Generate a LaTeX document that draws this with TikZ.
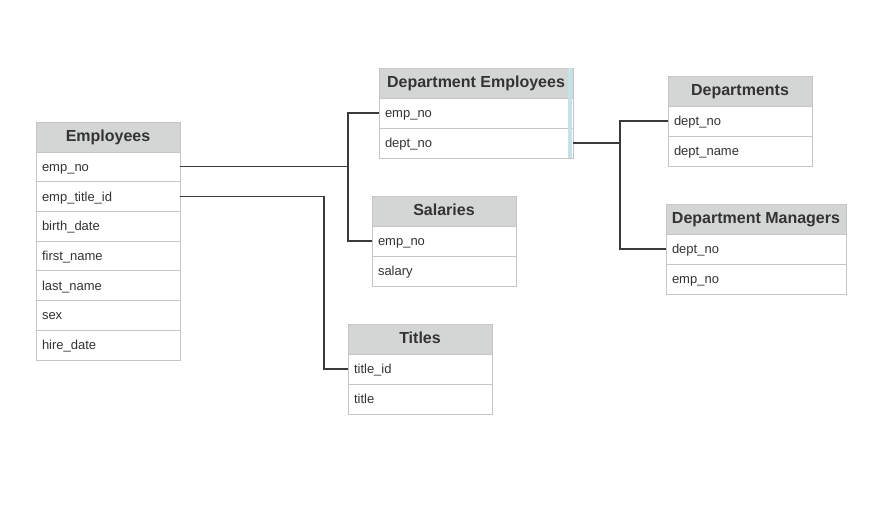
\documentclass[tikz,border=0pt]{standalone}
\usepackage{fontspec}
\setmainfont{Liberation Sans}
\definecolor{hdrfill}{HTML}{D4D6D5}
\definecolor{bordc}{HTML}{C6C6C6}
\definecolor{txtc}{HTML}{333333}
\definecolor{linec}{HTML}{3A3A3A}
\definecolor{barc}{HTML}{C5E2E7}
\begin{document}
\begin{tikzpicture}[x=1pt,y=-1pt,
  hdr/.style={draw=bordc, fill=hdrfill, line width=0.8pt, anchor=north west,
    outer sep=0pt, minimum width=#1, minimum height=30pt, inner sep=0pt,
    text height=10.5pt, text depth=1.5pt, text=txtc,
    font=\fontsize{16}{19}\selectfont\bfseries},
  fld/.style={draw=bordc, fill=white, line width=0.8pt, anchor=north west,
    outer sep=0pt, text width=#1, align=left, inner xsep=6pt, inner ysep=0pt,
    text height=10.8pt, text depth=1.6pt,
    minimum height=30pt, text=txtc, font=\fontsize{13}{16}\selectfont},
  efld/.style={fld=#1, minimum height=29.7pt},
  conn/.style={draw=linec, line width=1.1pt}]
\useasboundingbox[fill=white] (0,0) rectangle (893,504);

% Employees
\node[hdr=144pt] (emp) at (36,122) {Employees};
\node[efld=132pt] (emp1) at (emp.south west) {emp\_no};
\node[efld=132pt] (emp2) at (emp1.south west) {emp\_title\_id};
\node[efld=132pt] (emp3) at (emp2.south west) {birth\_date};
\node[efld=132pt] (emp4) at (emp3.south west) {first\_name};
\node[efld=132pt] (emp5) at (emp4.south west) {last\_name};
\node[efld=132pt] (emp6) at (emp5.south west) {sex};
\node[efld=132pt] (emp7) at (emp6.south west) {hire\_date};

% Department Employees
\node[hdr=194pt] (de) at (379,68) {Department Employees};
\node[fld=182pt] (de1) at (de.south west) {emp\_no};
\node[fld=182pt] (de2) at (de1.south west) {dept\_no};
\fill[barc] ([xshift=-5.2pt,yshift=-0.4pt]de.north east) rectangle ([xshift=-0.8pt,yshift=0.4pt]de2.south east);

% Salaries
\node[hdr=144pt] (sal) at (372,196) {Salaries};
\node[fld=132pt] (sal1) at (sal.south west) {emp\_no};
\node[fld=132pt] (sal2) at (sal1.south west) {salary};

% Titles
\node[hdr=144pt] (tit) at (348,324) {Titles};
\node[fld=132pt] (tit1) at (tit.south west) {title\_id};
\node[fld=132pt] (tit2) at (tit1.south west) {title};

% Departments
\node[hdr=144pt] (dep) at (668,76) {Departments};
\node[fld=132pt] (dep1) at (dep.south west) {dept\_no};
\node[fld=132pt] (dep2) at (dep1.south west) {dept\_name};

% Department Managers
\node[hdr=180pt] (dm) at (666,204) {Department Managers};
\node[fld=168pt] (dm1) at (dm.south west) {dept\_no};
\node[fld=168pt] (dm2) at (dm1.south west) {emp\_no};

% connector bus coordinates
\coordinate (busA) at (348,0);
\coordinate (busB) at (324,0);
\coordinate (busC) at (620,0);

\draw[conn] (emp1.east) -- (emp1.east -| busA);
\draw[conn] (de1.west) -- (de1.west -| busA) -- (sal1.west -| busA) -- (sal1.west);
\draw[conn] (emp2.east) -- (emp2.east -| busB) -- (tit1.west -| busB) -- (tit1.west);
\draw[conn] (de2.east) -- (de2.east -| busC);
\draw[conn] (dep1.west) -- (dep1.west -| busC) -- (dm1.west -| busC) -- (dm1.west);
\end{tikzpicture}
\end{document}
